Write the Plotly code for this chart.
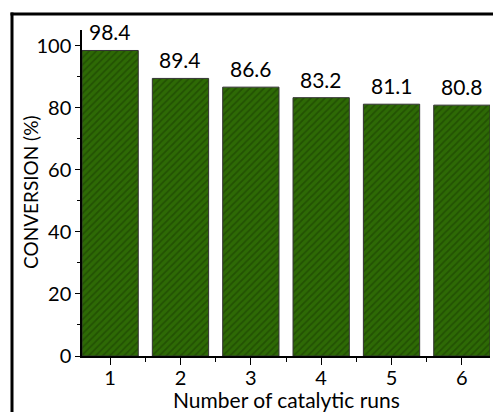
import plotly.graph_objects as go

runs = [1, 2, 3, 4, 5, 6]
conversion = [98.4, 89.4, 86.6, 83.2, 81.1, 80.8]
y_ticks = [0, 20, 40, 60, 80, 100]

FONT = "Lato"
W, H = 494, 414
ML, MR, MT, MB = 82, 4, 30, 58
PW, PH = W - ML - MR, H - MT - MB


def px(x):
    # page pixel -> paper x
    return (x - ML) / PW


def py(y):
    # page pixel -> paper y
    return (H - MB - y) / PH


fig = go.Figure(
    go.Bar(
        x=runs,
        y=conversion,
        width=0.8,
        hoverinfo="skip",
        marker=dict(
            color="#2e6a05",
            line=dict(color="#333333", width=1),
            pattern=dict(shape="/", fgcolor="#183a02", bgcolor="#2e6a05",
                         size=5, solidity=0.35, fillmode="overlay"),
        ),
    )
)

# value labels above each bar
for r, v in zip(runs, conversion):
    fig.add_annotation(x=r, y=v, text=f"{v:.1f}", showarrow=False,
                       yanchor="bottom", yshift=4,
                       font=dict(family=FONT, size=21, color="black"))

# axis titles
fig.add_annotation(xref="paper", yref="paper", x=0.5, y=-0.133,
                   text="Number of catalytic runs", showarrow=False,
                   xanchor="center", yanchor="middle",
                   font=dict(family=FONT, size=21, color="black"))
fig.add_annotation(xref="paper", yref="paper", x=px(30), y=0.5,
                   text="CONVERSION (%)", showarrow=False, textangle=-90,
                   xanchor="center", yanchor="middle",
                   font=dict(family=FONT, size=19, color="black"))

fig.update_layout(
    width=W, height=H,
    margin=dict(l=ML, r=MR, t=MT, b=MB),
    paper_bgcolor="white", plot_bgcolor="white",
    showlegend=False,
    font=dict(family=FONT, size=20, color="black"),
    xaxis=dict(
        range=[0.6, 6.4], tickvals=runs, showline=True, linecolor="black", linewidth=1.5,
        ticks="outside", ticklen=7, tickwidth=1.2, tickcolor="black",
        minor=dict(tickvals=[1.5, 2.5, 3.5, 4.5, 5.5], ticks="outside", ticklen=4, tickwidth=1.2, tickcolor="black"),
        showgrid=False, zeroline=False, ticklabelstandoff=-4,
        tickfont=dict(family=FONT, size=20),
    ),
    yaxis=dict(
        range=[0, 105], tickvals=y_ticks, showline=True, linecolor="black", linewidth=1.5,
        ticks="outside", ticklen=5, tickwidth=1.2, tickcolor="black",
        minor=dict(tickvals=[10, 30, 50, 70, 90], ticks="outside", ticklen=3, tickwidth=1.2, tickcolor="black"),
        showgrid=False, zeroline=False,
        tickfont=dict(family=FONT, size=20),
    ),
    shapes=[
        # outer frame: top and left edges, kept inside the page
        dict(type="line", xref="paper", yref="paper",
             x0=px(10.5), x1=px(493), y0=py(14), y1=py(14),
             line=dict(color="black", width=3)),
        dict(type="line", xref="paper", yref="paper",
             x0=px(12), x1=px(12), y0=py(412), y1=py(12.5),
             line=dict(color="black", width=3)),
    ],
)

fig.write_html("out.html")
